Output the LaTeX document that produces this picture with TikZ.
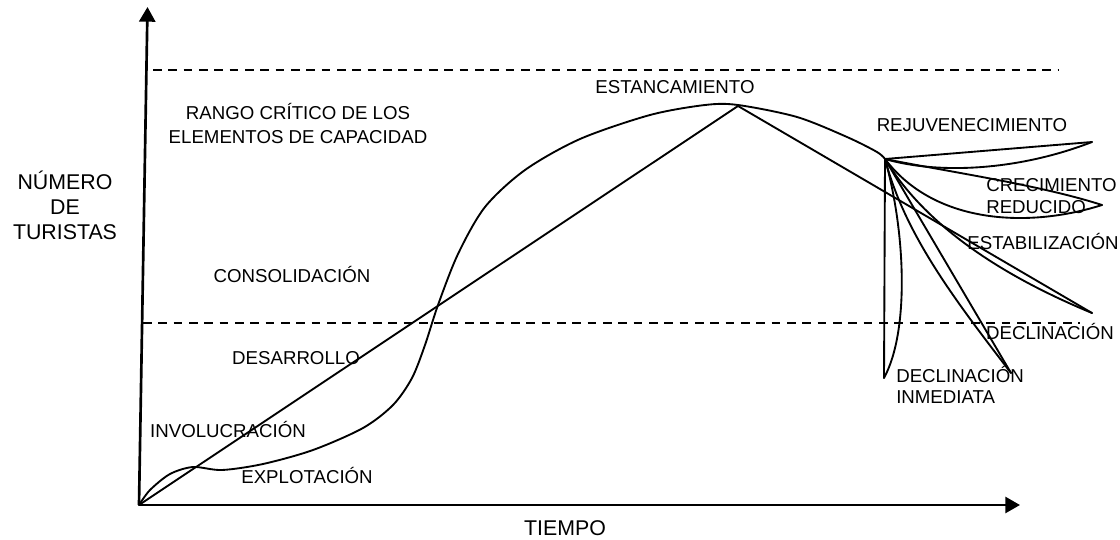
\documentclass[tikz,border=0pt]{standalone}
\usepackage{fontspec}
\setmainfont{Liberation Sans}
\usetikzlibrary{arrows.meta}
\begin{document}
\begin{tikzpicture}[x=0.75pt,y=-0.75pt,
  curve/.style={line width=1.4pt, line join=round, line cap=round},
  axis/.style={line width=2pt, -{Triangle[length=11pt,width=12pt]}},
  guide/.style={line width=1pt, dash pattern=on 6.5pt off 5pt},
  lbl/.style={font=\fontsize{14}{18}\selectfont, inner sep=0pt, text height=10pt, text depth=0pt},
  axlbl/.style={font=\fontsize{16}{18.75}\selectfont, inner sep=0pt, text height=11.5pt, text depth=0pt, align=center}]
\useasboundingbox (0,0) rectangle (1120,539);

% key points
\coordinate (O) at (139,505);
\coordinate (Ytop) at (147.5,7);
\coordinate (Xend) at (1020,505);
\coordinate (P) at (738,106);
\coordinate (F) at (885,159);
\coordinate (tA) at (1092,142);
\coordinate (tB) at (1102,205);
\coordinate (tC) at (1092,313);
\coordinate (tD) at (1011,373);
\coordinate (tE) at (884,378);
\coordinate (u1) at (153,70);
\coordinate (u2) at (1058,70);
\coordinate (l1) at (143,323);
\coordinate (l2) at (1080,323);

% guides
\draw[guide] (u1) -- (u2);
\draw[guide] (l1) -- (l2);

% axes
\draw[axis] (O) -- (Ytop);
\draw[axis] (O) -- (Xend);

% straight trend
\draw[curve] (O) -- (P) -- (tC);

% S-curve
\draw[curve] plot[smooth, tension=0.5] coordinates {(139,505) (150,490) (170,474) (193,467) (222,470) (263,464) (313,450) (363,428) (393,405) (412,378) (425,345) (438,305) (458,254) (485,207) (525,170) (580,139) (650,115) (705,105) (738,105) (797,117) (847,137) (877,152) (885,159)};

% fan
\draw[curve] (F) -- (tA);
\draw[curve] (F) .. controls (940,175) and (1020,170) .. (tA);
\draw[curve] (F) .. controls (950,172) and (1040,185) .. (tB);
\draw[curve] (F) .. controls (935,225) and (1030,228) .. (tB);
\draw[curve] (F) .. controls (925,225) and (1000,275) .. (tC);
\draw[curve] (F) .. controls (905,235) and (955,300) .. (tD);
\draw[curve] (F) -- (tD);
\draw[curve] (F) -- (tE);
\draw[curve] (F) .. controls (905,230) and (910,330) .. (tE);

% labels
\node[axlbl, text height=49pt] (numero) at (65,207) {NÚMERO\\DE\\TURISTAS};
\node[axlbl] (tiempo) at (565,528) {TIEMPO};
\node[lbl, align=center, text height=28pt] (rango) at (298,125) {RANGO CRÍTICO DE LOS\\ELEMENTOS DE CAPACIDAD};
\node[lbl] (estanc) at (675,87) {ESTANCAMIENTO};
\node[lbl] (rejuv) at (972,125) {REJUVENECIMIENTO};
\node[lbl, align=left, anchor=west, font=\fontsize{14}{16.5}\selectfont, text height=26.5pt] (crec) at (986,196) {CRECIMIENTO\\REDUCIDO};
\node[lbl] (estab) at (1043,243) {ESTABILIZACIÓN};
\node[lbl] (decl) at (1050,333) {DECLINACIÓN};
\node[lbl, align=left, anchor=west, font=\fontsize{14}{15.75}\selectfont, text height=25.75pt] (declinm) at (896,386.5) {DECLINACIÓN\\INMEDIATA};
\node[lbl] (consol) at (292,276) {CONSOLIDACIÓN};
\node[lbl] (desarr) at (296,358) {DESARROLLO};
\node[lbl] (invol) at (228,431) {INVOLUCRACIÓN};
\node[lbl] (explot) at (307,477) {EXPLOTACIÓN};
\end{tikzpicture}
\end{document}
